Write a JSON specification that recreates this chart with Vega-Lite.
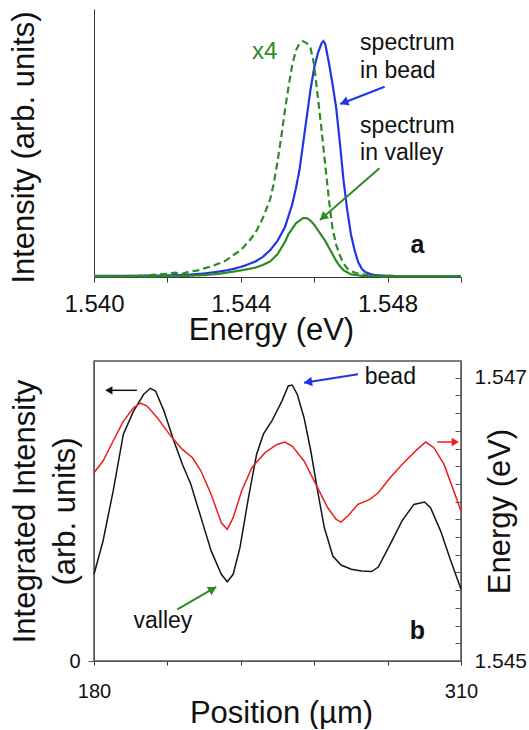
{
  "$schema": "https://vega.github.io/schema/vega-lite/v6.json",
  "background": "white",
  "padding": {"left": 8, "top": 9, "right": 0, "bottom": 0},
  "config": {
    "font": "Liberation Sans",
    "view": {"stroke": null},
    "axis": {"labelFont": "Liberation Sans", "titleFont": "Liberation Sans", "titleFontWeight": "normal", "labelColor": "#111", "titleColor": "#111", "grid": false, "labelFlush": false, "labelOverlap": false, "labelBound": false}
  },
  "datasets": {
    "spectra": [
      {"energy": 1.5400, "intensity": 0.004, "series": "bead"},
      {"energy": 1.5410, "intensity": 0.004, "series": "bead"},
      {"energy": 1.5420, "intensity": 0.006, "series": "bead"},
      {"energy": 1.5425, "intensity": 0.008, "series": "bead"},
      {"energy": 1.5430, "intensity": 0.013, "series": "bead"},
      {"energy": 1.5435, "intensity": 0.022, "series": "bead"},
      {"energy": 1.5438, "intensity": 0.030, "series": "bead"},
      {"energy": 1.5441, "intensity": 0.042, "series": "bead"},
      {"energy": 1.5444, "intensity": 0.058, "series": "bead"},
      {"energy": 1.5446, "intensity": 0.075, "series": "bead"},
      {"energy": 1.5448, "intensity": 0.100, "series": "bead"},
      {"energy": 1.5450, "intensity": 0.135, "series": "bead"},
      {"energy": 1.5452, "intensity": 0.185, "series": "bead"},
      {"energy": 1.5454, "intensity": 0.270, "series": "bead"},
      {"energy": 1.5455, "intensity": 0.330, "series": "bead"},
      {"energy": 1.5456, "intensity": 0.400, "series": "bead"},
      {"energy": 1.5457, "intensity": 0.500, "series": "bead"},
      {"energy": 1.5458, "intensity": 0.600, "series": "bead"},
      {"energy": 1.5459, "intensity": 0.700, "series": "bead"},
      {"energy": 1.5460, "intensity": 0.780, "series": "bead"},
      {"energy": 1.5461, "intensity": 0.835, "series": "bead"},
      {"energy": 1.5462, "intensity": 0.872, "series": "bead"},
      {"energy": 1.54625, "intensity": 0.880, "series": "bead"},
      {"energy": 1.5463, "intensity": 0.870, "series": "bead"},
      {"energy": 1.5464, "intensity": 0.800, "series": "bead"},
      {"energy": 1.5465, "intensity": 0.720, "series": "bead"},
      {"energy": 1.5466, "intensity": 0.630, "series": "bead"},
      {"energy": 1.5467, "intensity": 0.500, "series": "bead"},
      {"energy": 1.5468, "intensity": 0.360, "series": "bead"},
      {"energy": 1.5469, "intensity": 0.250, "series": "bead"},
      {"energy": 1.5470, "intensity": 0.160, "series": "bead"},
      {"energy": 1.5471, "intensity": 0.100, "series": "bead"},
      {"energy": 1.5472, "intensity": 0.055, "series": "bead"},
      {"energy": 1.5473, "intensity": 0.030, "series": "bead"},
      {"energy": 1.5474, "intensity": 0.018, "series": "bead"},
      {"energy": 1.5476, "intensity": 0.008, "series": "bead"},
      {"energy": 1.5480, "intensity": 0.004, "series": "bead"},
      {"energy": 1.5490, "intensity": 0.003, "series": "bead"},
      {"energy": 1.5500, "intensity": 0.003, "series": "bead"},
      {"energy": 1.5400, "intensity": 0.002, "series": "valley"},
      {"energy": 1.5410, "intensity": 0.002, "series": "valley"},
      {"energy": 1.5420, "intensity": 0.003, "series": "valley"},
      {"energy": 1.5425, "intensity": 0.004, "series": "valley"},
      {"energy": 1.5430, "intensity": 0.007, "series": "valley"},
      {"energy": 1.5434, "intensity": 0.012, "series": "valley"},
      {"energy": 1.5438, "intensity": 0.020, "series": "valley"},
      {"energy": 1.5441, "intensity": 0.027, "series": "valley"},
      {"energy": 1.5444, "intensity": 0.035, "series": "valley"},
      {"energy": 1.5446, "intensity": 0.045, "series": "valley"},
      {"energy": 1.5448, "intensity": 0.058, "series": "valley"},
      {"energy": 1.5450, "intensity": 0.085, "series": "valley"},
      {"energy": 1.5452, "intensity": 0.130, "series": "valley"},
      {"energy": 1.5453, "intensity": 0.160, "series": "valley"},
      {"energy": 1.5455, "intensity": 0.200, "series": "valley"},
      {"energy": 1.5457, "intensity": 0.220, "series": "valley"},
      {"energy": 1.5458, "intensity": 0.220, "series": "valley"},
      {"energy": 1.5459, "intensity": 0.210, "series": "valley"},
      {"energy": 1.5460, "intensity": 0.195, "series": "valley"},
      {"energy": 1.5461, "intensity": 0.175, "series": "valley"},
      {"energy": 1.5462, "intensity": 0.155, "series": "valley"},
      {"energy": 1.5463, "intensity": 0.135, "series": "valley"},
      {"energy": 1.5464, "intensity": 0.110, "series": "valley"},
      {"energy": 1.5465, "intensity": 0.085, "series": "valley"},
      {"energy": 1.5466, "intensity": 0.060, "series": "valley"},
      {"energy": 1.5467, "intensity": 0.040, "series": "valley"},
      {"energy": 1.5468, "intensity": 0.025, "series": "valley"},
      {"energy": 1.5470, "intensity": 0.010, "series": "valley"},
      {"energy": 1.5473, "intensity": 0.004, "series": "valley"},
      {"energy": 1.5480, "intensity": 0.002, "series": "valley"},
      {"energy": 1.5500, "intensity": 0.002, "series": "valley"},
      {"energy": 1.5400, "intensity": 0.003, "series": "valley x4"},
      {"energy": 1.5410, "intensity": 0.004, "series": "valley x4"},
      {"energy": 1.5415, "intensity": 0.006, "series": "valley x4"},
      {"energy": 1.5418, "intensity": 0.010, "series": "valley x4"},
      {"energy": 1.5420, "intensity": 0.012, "series": "valley x4"},
      {"energy": 1.5422, "intensity": 0.016, "series": "valley x4"},
      {"energy": 1.5424, "intensity": 0.012, "series": "valley x4"},
      {"energy": 1.5426, "intensity": 0.020, "series": "valley x4"},
      {"energy": 1.5428, "intensity": 0.024, "series": "valley x4"},
      {"energy": 1.5430, "intensity": 0.032, "series": "valley x4"},
      {"energy": 1.5432, "intensity": 0.040, "series": "valley x4"},
      {"energy": 1.5434, "intensity": 0.050, "series": "valley x4"},
      {"energy": 1.5436, "intensity": 0.062, "series": "valley x4"},
      {"energy": 1.5438, "intensity": 0.082, "series": "valley x4"},
      {"energy": 1.5440, "intensity": 0.100, "series": "valley x4"},
      {"energy": 1.5442, "intensity": 0.130, "series": "valley x4"},
      {"energy": 1.5444, "intensity": 0.165, "series": "valley x4"},
      {"energy": 1.5446, "intensity": 0.220, "series": "valley x4"},
      {"energy": 1.5448, "intensity": 0.290, "series": "valley x4"},
      {"energy": 1.5449, "intensity": 0.350, "series": "valley x4"},
      {"energy": 1.5450, "intensity": 0.430, "series": "valley x4"},
      {"energy": 1.5451, "intensity": 0.520, "series": "valley x4"},
      {"energy": 1.5452, "intensity": 0.620, "series": "valley x4"},
      {"energy": 1.5453, "intensity": 0.710, "series": "valley x4"},
      {"energy": 1.5454, "intensity": 0.790, "series": "valley x4"},
      {"energy": 1.5455, "intensity": 0.845, "series": "valley x4"},
      {"energy": 1.5456, "intensity": 0.872, "series": "valley x4"},
      {"energy": 1.5457, "intensity": 0.880, "series": "valley x4"},
      {"energy": 1.5458, "intensity": 0.872, "series": "valley x4"},
      {"energy": 1.5459, "intensity": 0.855, "series": "valley x4"},
      {"energy": 1.5460, "intensity": 0.790, "series": "valley x4"},
      {"energy": 1.5461, "intensity": 0.670, "series": "valley x4"},
      {"energy": 1.5462, "intensity": 0.550, "series": "valley x4"},
      {"energy": 1.5463, "intensity": 0.420, "series": "valley x4"},
      {"energy": 1.5464, "intensity": 0.290, "series": "valley x4"},
      {"energy": 1.5465, "intensity": 0.180, "series": "valley x4"},
      {"energy": 1.5466, "intensity": 0.120, "series": "valley x4"},
      {"energy": 1.5467, "intensity": 0.080, "series": "valley x4"},
      {"energy": 1.5468, "intensity": 0.050, "series": "valley x4"},
      {"energy": 1.5469, "intensity": 0.032, "series": "valley x4"},
      {"energy": 1.5470, "intensity": 0.022, "series": "valley x4"},
      {"energy": 1.5472, "intensity": 0.012, "series": "valley x4"},
      {"energy": 1.5475, "intensity": 0.006, "series": "valley x4"},
      {"energy": 1.5480, "intensity": 0.004, "series": "valley x4"},
      {"energy": 1.5490, "intensity": 0.003, "series": "valley x4"},
      {"energy": 1.5500, "intensity": 0.003, "series": "valley x4"}
    ],
    "profile": [
      {"position": 180.0, "integrated": 0.289},
      {"position": 183.2, "integrated": 0.400},
      {"position": 186.8, "integrated": 0.567},
      {"position": 190.4, "integrated": 0.756},
      {"position": 194.0, "integrated": 0.833},
      {"position": 197.6, "integrated": 0.889},
      {"position": 200.0, "integrated": 0.909},
      {"position": 201.8, "integrated": 0.900},
      {"position": 204.8, "integrated": 0.833},
      {"position": 208.3, "integrated": 0.733},
      {"position": 211.3, "integrated": 0.656},
      {"position": 214.3, "integrated": 0.589},
      {"position": 217.9, "integrated": 0.478},
      {"position": 221.5, "integrated": 0.367},
      {"position": 225.1, "integrated": 0.289},
      {"position": 227.2, "integrated": 0.264},
      {"position": 229.3, "integrated": 0.289},
      {"position": 231.7, "integrated": 0.378},
      {"position": 234.7, "integrated": 0.544},
      {"position": 237.6, "integrated": 0.689},
      {"position": 240.0, "integrated": 0.756},
      {"position": 243.0, "integrated": 0.800},
      {"position": 246.6, "integrated": 0.867},
      {"position": 248.8, "integrated": 0.917},
      {"position": 250.2, "integrated": 0.920},
      {"position": 252.0, "integrated": 0.889},
      {"position": 254.4, "integrated": 0.811},
      {"position": 256.8, "integrated": 0.700},
      {"position": 259.2, "integrated": 0.567},
      {"position": 261.6, "integrated": 0.444},
      {"position": 264.6, "integrated": 0.350},
      {"position": 267.5, "integrated": 0.320},
      {"position": 271.1, "integrated": 0.306},
      {"position": 274.7, "integrated": 0.300},
      {"position": 278.3, "integrated": 0.298},
      {"position": 280.7, "integrated": 0.313},
      {"position": 284.9, "integrated": 0.389},
      {"position": 289.1, "integrated": 0.467},
      {"position": 293.3, "integrated": 0.522},
      {"position": 297.1, "integrated": 0.530},
      {"position": 299.2, "integrated": 0.511},
      {"position": 302.8, "integrated": 0.433},
      {"position": 306.4, "integrated": 0.333},
      {"position": 310.0, "integrated": 0.239}
    ],
    "peakEnergy": [
      {"position": 180.0, "energy": 1.546329},
      {"position": 183.2, "energy": 1.546412},
      {"position": 186.8, "energy": 1.546553},
      {"position": 190.4, "energy": 1.546694},
      {"position": 194.0, "energy": 1.546788},
      {"position": 196.4, "energy": 1.546821},
      {"position": 198.8, "energy": 1.546800},
      {"position": 202.4, "energy": 1.546718},
      {"position": 207.2, "energy": 1.546588},
      {"position": 211.3, "energy": 1.546494},
      {"position": 214.9, "energy": 1.546435},
      {"position": 217.9, "energy": 1.546341},
      {"position": 221.5, "energy": 1.546176},
      {"position": 225.1, "energy": 1.545976},
      {"position": 227.2, "energy": 1.545929},
      {"position": 229.3, "energy": 1.546012},
      {"position": 232.3, "energy": 1.546200},
      {"position": 235.9, "energy": 1.546365},
      {"position": 240.6, "energy": 1.546471},
      {"position": 244.8, "energy": 1.546529},
      {"position": 247.6, "energy": 1.546546},
      {"position": 250.2, "energy": 1.546518},
      {"position": 254.4, "energy": 1.546412},
      {"position": 258.6, "energy": 1.546247},
      {"position": 262.8, "energy": 1.546082},
      {"position": 265.8, "energy": 1.546000},
      {"position": 267.5, "energy": 1.545981},
      {"position": 269.9, "energy": 1.546024},
      {"position": 273.5, "energy": 1.546106},
      {"position": 277.7, "energy": 1.546141},
      {"position": 280.7, "energy": 1.546188},
      {"position": 284.9, "energy": 1.546294},
      {"position": 289.7, "energy": 1.546400},
      {"position": 294.5, "energy": 1.546494},
      {"position": 297.5, "energy": 1.546546},
      {"position": 300.4, "energy": 1.546506},
      {"position": 304.0, "energy": 1.546388},
      {"position": 307.0, "energy": 1.546224},
      {"position": 310.0, "energy": 1.546059}
    ]
  },
  "spacing": 15,
  "vconcat": [
    {
      "width": 367,
      "height": 268,
      "layer": [
        {
          "data": {"name": "spectra"},
          "mark": {"type": "line", "strokeWidth": 2.2},
          "encoding": {
            "x": {"field": "energy", "type": "quantitative",
              "scale": {"domain": [1.54, 1.55], "nice": false, "zero": false},
              "axis": {"values": [1.54, 1.542, 1.544, 1.546, 1.548, 1.55], "format": ".3f",
                "labelExpr": "(abs(datum.value-1.540)<1e-6 || abs(datum.value-1.544)<1e-6 || abs(datum.value-1.548)<1e-6) ? datum.label : ''",
                "tickSize": 5, "labelPadding": 10, "labelFontSize": 24,
                "title": "Energy (eV)", "titleFontSize": 31, "titleX": 177, "titleY": 62, "titleAlign": "center", "titleBaseline": "alphabetic",
                "domainColor": "#333", "tickColor": "#333"}},
            "y": {"field": "intensity", "type": "quantitative",
              "scale": {"domain": [0, 1], "nice": false},
              "axis": {"ticks": false, "labels": false, "title": "Intensity (arb. units)", "titleFontSize": 31, "titleAngle": 270,
                "titleX": -60.5, "titleY": 138, "titleAlign": "center", "titleBaseline": "alphabetic", "domainColor": "#333"}},
            "color": {"field": "series", "type": "nominal", "legend": null,
              "scale": {"domain": ["bead", "valley", "valley x4"], "range": ["#1f35e6", "#2e8a24", "#2e8a24"]}},
            "strokeDash": {"field": "series", "type": "nominal", "legend": null,
              "scale": {"domain": ["bead", "valley", "valley x4"], "range": [[1, 0], [1, 0], [7, 4]]}}
          }
        },
        {
          "data": {"values": [
            {"energy": 1.547251, "intensity": 0.847, "label": "spectrum"},
            {"energy": 1.547251, "intensity": 0.7414, "label": "in bead"},
            {"energy": 1.547251, "intensity": 0.5384, "label": "spectrum"},
            {"energy": 1.547251, "intensity": 0.4366, "label": "in valley"}
          ]},
          "mark": {"type": "text", "fontSize": 23, "align": "left", "baseline": "alphabetic", "color": "#111"},
          "encoding": {"x": {"field": "energy", "type": "quantitative"}, "y": {"field": "intensity", "type": "quantitative"}, "text": {"field": "label"}}
        },
        {
          "data": {"values": [{"energy": 1.544306, "intensity": 0.8123, "label": "x4"}]},
          "mark": {"type": "text", "fontSize": 24, "align": "left", "baseline": "alphabetic", "color": "#2e8a24"},
          "encoding": {"x": {"field": "energy", "type": "quantitative"}, "y": {"field": "intensity", "type": "quantitative"}, "text": {"field": "label"}}
        },
        {
          "data": {"values": [{"energy": 1.548814, "intensity": 0.0884, "label": "a"}]},
          "mark": {"type": "text", "fontSize": 25, "fontWeight": "bold", "align": "center", "baseline": "alphabetic", "color": "#111"},
          "encoding": {"x": {"field": "energy", "type": "quantitative"}, "y": {"field": "intensity", "type": "quantitative"}, "text": {"field": "label"}}
        },
        {
          "data": {"values": [{"e1": 1.547918, "i1": 0.710, "e2": 1.546713, "i2": 0.6455}]},
          "mark": {"type": "rule", "color": "#1f35e6", "strokeWidth": 2},
          "encoding": {"x": {"field": "e1", "type": "quantitative"}, "y": {"field": "i1", "type": "quantitative"}, "x2": {"field": "e2"}, "y2": {"field": "i2"}}
        },
        {
          "data": {"values": [{"e": 1.546814, "i": 0.651}]},
          "mark": {"type": "point", "shape": "triangle-right", "angle": 158.5, "filled": true, "size": 90, "color": "#1f35e6", "opacity": 1},
          "encoding": {"x": {"field": "e", "type": "quantitative"}, "y": {"field": "i", "type": "quantitative"}}
        },
        {
          "data": {"values": [{"e1": 1.547779, "i1": 0.4056, "e2": 1.546158, "i2": 0.2127}]},
          "mark": {"type": "rule", "color": "#2e8a24", "strokeWidth": 2},
          "encoding": {"x": {"field": "e1", "type": "quantitative"}, "y": {"field": "i1", "type": "quantitative"}, "x2": {"field": "e2"}, "y2": {"field": "i2"}}
        },
        {
          "data": {"values": [{"e": 1.54624, "i": 0.2224}]},
          "mark": {"type": "point", "shape": "triangle-right", "angle": 138.9, "filled": true, "size": 90, "color": "#2e8a24", "opacity": 1},
          "encoding": {"x": {"field": "e", "type": "quantitative"}, "y": {"field": "i", "type": "quantitative"}}
        }
      ]
    },
    {
      "width": 367,
      "height": 300,
      "view": {"stroke": "#555", "strokeWidth": 1.5},
      "resolve": {"scale": {"y": "independent"}},
      "layer": [
        {
          "layer": [
            {
              "data": {"name": "profile"},
              "mark": {"type": "line", "color": "#151515", "strokeWidth": 1.5},
              "encoding": {
                "x": {"field": "position", "type": "quantitative",
                  "scale": {"domain": [180, 310], "nice": false, "zero": false},
                  "axis": {"values": [180, 186.5, 193, 199.5, 206, 212.5, 219, 225.5, 232, 238.5, 245, 251.5, 258, 264.5, 271, 277.5, 284, 290.5, 297, 303.5, 310],
                    "labelExpr": "(datum.value == 180 || datum.value == 310) ? datum.label : ''", "format": "d",
                    "tickSize": 4, "labelPadding": 16, "labelFontSize": 20,
                    "title": "Position (µm)", "titleFontSize": 31, "titleX": 187, "titleY": 61, "titleAlign": "center", "titleBaseline": "alphabetic",
                    "domainColor": "#555", "tickColor": "#333"}},
                "y": {"field": "integrated", "type": "quantitative",
                  "scale": {"domain": [0, 1], "nice": false},
                  "axis": {"orient": "left", "values": [0], "format": "d", "tickSize": 6, "labelPadding": 8, "labelFontSize": 20,
                    "title": ["Integrated Intensity", "(arb. units)"], "titleFontSize": 31, "titleLineHeight": 40, "titleAngle": 270,
                    "titleX": -59.5, "titleY": 150, "titleAlign": "center", "titleBaseline": "alphabetic",
                    "domainColor": "#555", "tickColor": "#555"}}
              }
            },
            {
              "data": {"values": [{"position": 275.92, "integrated": 0.9223, "label": "bead"}, {"position": 193.99, "integrated": 0.111, "label": "valley"}]},
              "mark": {"type": "text", "fontSize": 23, "align": "left", "baseline": "alphabetic", "color": "#111"},
              "encoding": {"x": {"field": "position", "type": "quantitative"}, "y": {"field": "integrated", "type": "quantitative"}, "text": {"field": "label"}}
            },
            {
              "data": {"values": [{"position": 294.55, "integrated": 0.0743, "label": "b"}]},
              "mark": {"type": "text", "fontSize": 25, "fontWeight": "bold", "align": "center", "baseline": "alphabetic", "color": "#111"},
              "encoding": {"x": {"field": "position", "type": "quantitative"}, "y": {"field": "integrated", "type": "quantitative"}, "text": {"field": "label"}}
            },
            {
              "data": {"values": [{"p1": 195.2, "v1": 0.9023, "p2": 184.5, "v2": 0.9023}]},
              "mark": {"type": "rule", "color": "#111", "strokeWidth": 1.5},
              "encoding": {"x": {"field": "p1", "type": "quantitative"}, "y": {"field": "v1", "type": "quantitative"}, "x2": {"field": "p2"}, "y2": {"field": "v2"}}
            },
            {
              "data": {"values": [{"p": 185.24, "v": 0.9023}]},
              "mark": {"type": "point", "shape": "triangle-right", "angle": 180, "filled": true, "size": 70, "color": "#111", "opacity": 1},
              "encoding": {"x": {"field": "p", "type": "quantitative"}, "y": {"field": "v", "type": "quantitative"}}
            },
            {
              "data": {"values": [{"p1": 301.6, "v1": 0.73, "p2": 308.5, "v2": 0.73}]},
              "mark": {"type": "rule", "color": "#ee1c1c", "strokeWidth": 1.5},
              "encoding": {"x": {"field": "p1", "type": "quantitative"}, "y": {"field": "v1", "type": "quantitative"}, "x2": {"field": "p2"}, "y2": {"field": "v2"}}
            },
            {
              "data": {"values": [{"p": 307.98, "v": 0.73}]},
              "mark": {"type": "point", "shape": "triangle-right", "angle": 0, "filled": true, "size": 70, "color": "#ee1c1c", "opacity": 1},
              "encoding": {"x": {"field": "p", "type": "quantitative"}, "y": {"field": "v", "type": "quantitative"}}
            },
            {
              "data": {"values": [{"p1": 273.51, "v1": 0.9557, "p2": 254.39, "v2": 0.9277}]},
              "mark": {"type": "rule", "color": "#1f35e6", "strokeWidth": 2},
              "encoding": {"x": {"field": "p1", "type": "quantitative"}, "y": {"field": "v1", "type": "quantitative"}, "x2": {"field": "p2"}, "y2": {"field": "v2"}}
            },
            {
              "data": {"values": [{"p": 255.8, "v": 0.9297}]},
              "mark": {"type": "point", "shape": "triangle-right", "angle": 171, "filled": true, "size": 90, "color": "#1f35e6", "opacity": 1},
              "encoding": {"x": {"field": "p", "type": "quantitative"}, "y": {"field": "v", "type": "quantitative"}}
            },
            {
              "data": {"values": [{"p1": 209.54, "v1": 0.1723, "p2": 223.29, "v2": 0.2467}]},
              "mark": {"type": "rule", "color": "#2e8a24", "strokeWidth": 2},
              "encoding": {"x": {"field": "p1", "type": "quantitative"}, "y": {"field": "v1", "type": "quantitative"}, "x2": {"field": "p2"}, "y2": {"field": "v2"}}
            },
            {
              "data": {"values": [{"p": 222.05, "v": 0.24}]},
              "mark": {"type": "point", "shape": "triangle-right", "angle": 330, "filled": true, "size": 90, "color": "#2e8a24", "opacity": 1},
              "encoding": {"x": {"field": "p", "type": "quantitative"}, "y": {"field": "v", "type": "quantitative"}}
            }
          ]
        },
        {
          "data": {"name": "peakEnergy"},
          "mark": {"type": "line", "color": "#ee1c1c", "strokeWidth": 1.5},
          "encoding": {
            "x": {"field": "position", "type": "quantitative"},
            "y": {"field": "energy", "type": "quantitative",
              "scale": {"domain": [1.545, 1.547118], "nice": false, "zero": false},
              "axis": {"orient": "right",
                "values": [1.545, 1.545125, 1.54525, 1.545375, 1.5455, 1.545625, 1.54575, 1.545875, 1.546, 1.546125, 1.54625, 1.546375, 1.5465, 1.546625, 1.54675, 1.546875, 1.547],
                "format": ".3f",
                "labelExpr": "(abs(datum.value-1.545)<1e-7 || abs(datum.value-1.547)<1e-7) ? datum.label : ''",
                "tickSize": -6, "labelPadding": 19, "labelFontSize": 21,
                "title": "Energy (eV)", "titleFontSize": 31, "titleAngle": 270, "titleX": 48, "titleY": 150, "titleAlign": "center", "titleBaseline": "alphabetic",
                "domainColor": "#555", "tickColor": "#555"}}
          }
        }
      ]
    }
  ]
}
